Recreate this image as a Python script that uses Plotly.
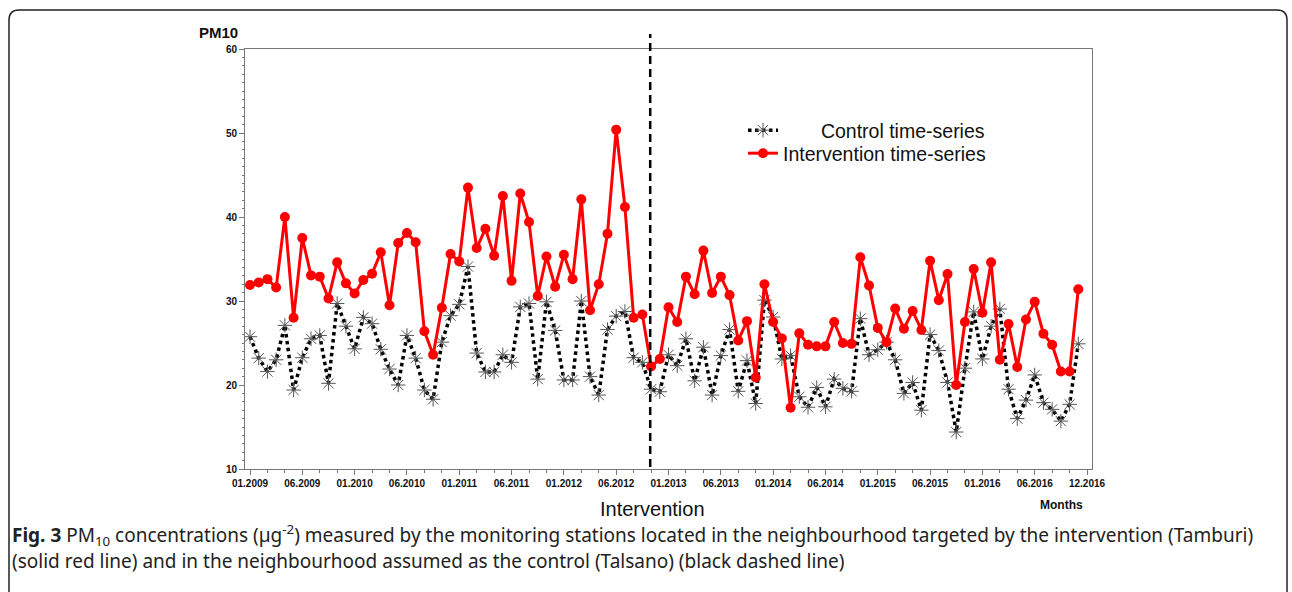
import plotly.graph_objects as go

# ---------------- data ----------------
intervention = [31.9, 32.2, 32.6, 31.6, 40.0, 28.0, 37.5, 33.05, 32.9, 30.3,
                34.6, 32.1, 30.9, 32.5, 33.25, 35.8, 29.5, 36.9, 38.1, 37.0,
                26.4, 23.6, 29.2, 35.6, 34.7, 43.5, 36.3, 38.6, 35.4, 42.5,
                32.4, 42.8, 39.4, 30.6, 35.3, 31.7, 35.5, 32.6, 42.1, 28.9,
                32.0, 38.0, 50.4, 41.2, 28.0, 28.4, 22.2, 23.1, 29.25, 27.5,
                32.9, 30.8, 36.0, 30.95, 32.9, 30.7, 25.3, 27.6, 20.9, 32.0,
                27.5, 25.55, 17.3, 26.15, 24.8, 24.6, 24.6, 27.5, 25.0, 24.9,
                35.2, 31.85, 26.8, 25.1, 29.1, 26.7, 28.8, 26.55, 34.8, 30.1,
                33.2, 20.0, 27.5, 33.8, 28.6, 34.6, 23.0, 27.26, 22.15, 27.8,
                29.9, 26.1, 24.8, 21.6, 21.6, 31.4]

control = [25.75, 23.2, 21.6, 23.0, 27.1, 19.4, 23.25, 25.5, 25.9, 20.2,
           29.7, 27.0, 24.3, 28.05, 27.3, 24.25, 21.9, 20.0, 25.9, 23.2,
           19.4, 18.3, 25.1, 28.25, 29.6, 34.1, 23.8, 21.55, 21.55, 23.6,
           22.7, 29.3, 29.7, 20.7, 29.9, 26.5, 20.6, 20.6, 30.0, 21.0,
           18.8, 26.6, 28.2, 28.75, 23.25, 22.7, 19.5, 19.2, 23.6, 22.3,
           25.5, 20.5, 24.5, 18.8, 23.5, 26.6, 19.25, 22.9, 17.8, 30.1,
           28.1, 23.1, 23.5, 18.6, 17.35, 19.7, 17.4, 20.7, 19.6, 19.25,
           27.9, 23.6, 24.2, 25.1, 23.0, 19.0, 20.3, 17.0, 26.0, 24.1,
           20.3, 14.4, 22.0, 28.7, 23.1, 27.0, 29.05, 19.5, 16.0, 18.2,
           21.2, 17.9, 17.1, 15.7, 17.7, 24.9]

months = list(range(len(intervention)))

tick_positions = list(range(0, 97, 6))
tick_labels = ["01.2009", "06.2009", "01.2010", "06.2010", "01.2011", "06.2011",
               "01.2012", "06.2012", "01.2013", "06.2013", "01.2014", "06.2014",
               "01.2015", "06.2015", "01.2016", "06.2016", "12.2016"]

intervention_month = 45.9

# ---------------- layout geometry ----------------
W, H = 1292, 592
L, R, T, B = 245, 200, 49, 123
PW, PH = W - L - R, H - T - B


def px(x):
    return (x - L) / PW


def py(y):
    return (H - B - y) / PH


ARIAL = "Liberation Sans, Arial"

fig = go.Figure()

fig.add_trace(go.Scatter(
    x=months, y=control, mode="lines+markers",
    name="\u00a0" * 7 + "Control time-series",
    legend="legend",
    line=dict(color="black", width=3.5, dash="dot"),
    marker=dict(symbol="asterisk-open", size=12, color="#555",
                line=dict(color="#555", width=1)),
))

fig.add_trace(go.Scatter(
    x=months, y=intervention, mode="lines+markers",
    name="Intervention time-series",
    legend="legend2",
    line=dict(color="#ff0000", width=3),
    marker=dict(symbol="circle", size=10, color="#ff0000"),
))

# intervention vertical dashed line
fig.add_shape(type="line", xref="x", yref="paper",
              x0=intervention_month, x1=intervention_month,
              y0=py(467), y1=py(34),
              line=dict(color="black", width=2.5, dash="8px,5px"))

# rounded outer frame
r = 10
frame_path = (f"M {px(9)},{py(600)} L {px(9)},{py(10 + r)} "
              f"Q {px(9)},{py(10)} {px(9 + r)},{py(10)} "
              f"L {px(1287 - r)},{py(10)} "
              f"Q {px(1287)},{py(10)} {px(1287)},{py(10 + r)} "
              f"L {px(1287)},{py(600)}")
fig.add_shape(type="path", xref="paper", yref="paper", path=frame_path,
              line=dict(color="#222", width=1.5))

annotations = [
    dict(text="<b>PM10</b>", x=px(240), y=py(33), xanchor="right", yanchor="middle",
         font=dict(family=ARIAL, size=15, color="#111")),
    dict(text="Intervention", x=px(652), y=py(509), xanchor="center", yanchor="middle",
         font=dict(family=ARIAL, size=20, color="#111")),
    dict(text="<b>Months</b>", x=px(1061), y=py(505), xanchor="center", yanchor="middle",
         font=dict(family=ARIAL, size=12, color="#111")),
    dict(text="<b>Fig. 3</b> PM<sub>10</sub> concentrations (µg<sup>-2</sup>) measured by the monitoring "
              "stations located in the neighbourhood targeted by the intervention (Tamburi)",
         x=px(10), y=py(535), xanchor="left", yanchor="middle",
         font=dict(family="Noto Sans", size=19, color="#222")),
    dict(text="(solid red line) and in the neighbourhood assumed as the control (Talsano) "
              "(black dashed line)",
         x=px(10), y=py(561), xanchor="left", yanchor="middle",
         font=dict(family="Noto Sans", size=19, color="#222")),
]
for a in annotations:
    a.update(xref="paper", yref="paper", showarrow=False)

legend_style = dict(xanchor="left", yanchor="top", bgcolor="rgba(0,0,0,0)",
                    font=dict(family=ARIAL, size=19.5, color="#111"))

fig.update_layout(
    width=W, height=H, autosize=False,
    margin=dict(l=L, r=R, t=T, b=B, pad=0),
    paper_bgcolor="white", plot_bgcolor="white",
    annotations=annotations,
    showlegend=True,
    legend=dict(x=px(743), y=py(111), **legend_style),
    legend2=dict(x=px(743), y=py(134), **legend_style),
    xaxis=dict(range=[(L - 250) / 8.719, (W - R - 250) / 8.719],
               tickmode="array", tickvals=tick_positions, ticktext=tick_labels,
               ticks="outside", ticklen=5, tickcolor="#777", tickwidth=1,
               minor=dict(dtick=2, ticks="outside", ticklen=3, tickcolor="#777"),
               showline=True, linecolor="#777", linewidth=1, mirror=True,
               showgrid=False, zeroline=False,
               tickfont=dict(family=ARIAL, size=10, color="#111", weight="bold")),
    yaxis=dict(range=[10, 60], tickmode="linear", tick0=10, dtick=10,
               ticks="outside", ticklen=5, tickcolor="#777", tickwidth=1,
               minor=dict(dtick=1, ticks="outside", ticklen=2, tickcolor="#777"),
               showline=True, linecolor="#777", linewidth=1, mirror=True,
               showgrid=False, zeroline=False,
               tickfont=dict(family=ARIAL, size=10, color="#111", weight="bold")),
)

fig.write_html("out.html")
